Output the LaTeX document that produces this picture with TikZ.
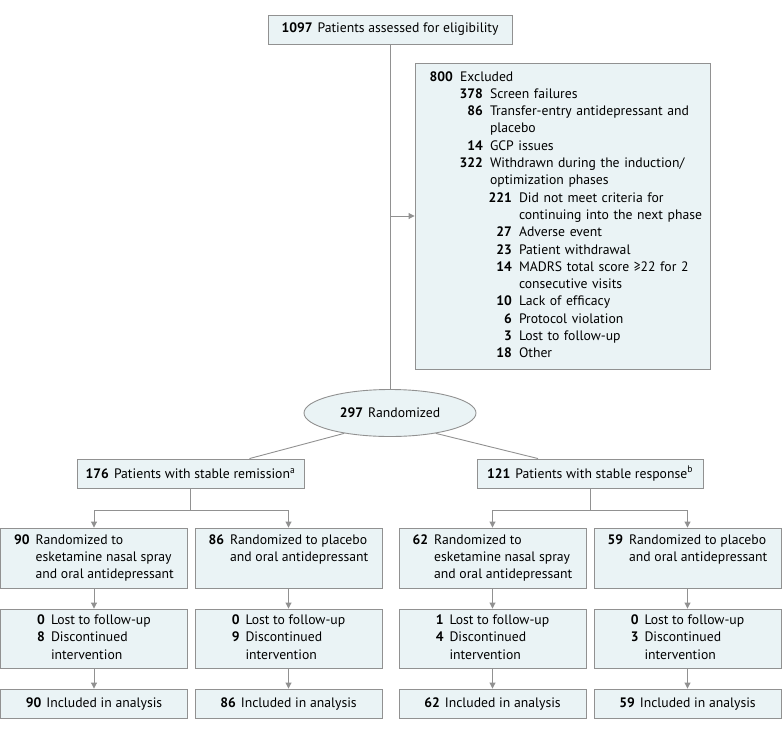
\documentclass[tikz,border=0pt]{standalone}
\usepackage{fontspec}
\setmainfont{PT Sans}
\usepackage{xcolor}
\usetikzlibrary{positioning,shapes.geometric,arrows.meta}
\definecolor{boxfill}{RGB}{234,243,245}
\definecolor{boxline}{RGB}{145,145,145}
\tikzset{
  every node/.style={font=\fontsize{13.7}{17.3}\selectfont}
}
\newcommand{\exitem}[3]{\makebox[#1pt][r]{\textbf{#2}}\hspace{7pt}#3}
\newcommand{\exmore}[2]{\hspace*{#1pt}#2}

\begin{document}
\begin{tikzpicture}[x=1pt,y=-1pt,
		box/.style = {rectangle, draw=boxline, fill=boxfill, line width=0.9pt, minimum width=#1, inner sep=0pt, align=center},
		box/.default = 187pt,
		line/.style = {draw=boxline, line width=0.9pt},
		arr/.style = {line, -{Triangle[length=6pt,width=6pt]}}]
	\useasboundingbox (0,0) rectangle (783,731);

	\node[box=244pt, minimum height=29pt] (top) at (390, 29.5) {\textbf{1097}\hspace{5pt}Patients assessed for eligibility};
	\node[box=295pt, minimum height=306pt, text width=295pt, align=left] (excl) at (562.5, 216) {%
		\begin{tabular}{@{}l@{}}
		\exitem{38}{800}{Excluded}\\
		\exitem{68}{378}{Screen failures}\\
		\exitem{68}{86}{Transfer-entry antidepressant and}\\
		\exmore{75}{placebo}\\
		\exitem{68}{14}{GCP issues}\\
		\exitem{68}{322}{Withdrawn during the induction/}\\
		\exmore{75}{optimization phases}\\
		\exitem{97}{221}{Did not meet criteria for}\\
		\exmore{104}{continuing into the next phase}\\
		\exitem{97}{27}{Adverse event}\\
		\exitem{97}{23}{Patient withdrawal}\\
		\exitem{97}{14}{MADRS total score ≥22 for 2}\\
		\exmore{104}{consecutive visits}\\
		\exitem{97}{10}{Lack of efficacy}\\
		\exitem{97}{6}{Protocol violation}\\
		\exitem{97}{3}{Lost to follow-up}\\
		\exitem{97}{18}{Other}
		\end{tabular}};
	\node[ellipse, draw=boxline, fill=boxfill, line width=0.9pt, minimum width=172pt, minimum height=47pt, inner sep=0pt] (rand) at (390, 413) {\textbf{297}\hspace{5pt}Randomized};
	\node[box=227pt, minimum height=29pt] (remis) at (190.5, 473.5) {\textbf{176}\hspace{5pt}Patients with stable remission\textsuperscript{a}};
	\node[box=226pt, minimum height=29pt] (resp) at (590, 473.5) {\textbf{121}\hspace{5pt}Patients with stable response\textsuperscript{b}};

	\node[box, minimum height=60pt] (a1) at (94, 558) {\begin{tabular}{@{}r@{\hspace{6pt}}l@{}}\textbf{90}&Randomized to\\&esketamine nasal spray\\&and oral antidepressant\end{tabular}};
	\node[box, minimum height=60pt] (b1) at (288.5, 558) {\begin{tabular}{@{}r@{\hspace{6pt}}l@{}}\textbf{86}&Randomized to placebo\\&and oral antidepressant\\&\end{tabular}};
	\node[box, minimum height=60pt] (c1) at (492.5, 558) {\begin{tabular}{@{}r@{\hspace{6pt}}l@{}}\textbf{62}&Randomized to\\&esketamine nasal spray\\&and oral antidepressant\end{tabular}};
	\node[box, minimum height=60pt] (d1) at (687.5, 558) {\begin{tabular}{@{}r@{\hspace{6pt}}l@{}}\textbf{59}&Randomized to placebo\\&and oral antidepressant\\&\end{tabular}};

	\node[box, minimum height=59pt] (a2) at (94, 638.5) {\begin{tabular}{@{}r@{\hspace{6pt}}l@{}}\textbf{0}&Lost to follow-up\\\textbf{8}&Discontinued\\&intervention\end{tabular}};
	\node[box, minimum height=59pt] (b2) at (288.5, 638.5) {\begin{tabular}{@{}r@{\hspace{6pt}}l@{}}\textbf{0}&Lost to follow-up\\\textbf{9}&Discontinued\\&intervention\end{tabular}};
	\node[box, minimum height=59pt] (c2) at (492.5, 638.5) {\begin{tabular}{@{}r@{\hspace{6pt}}l@{}}\textbf{1}&Lost to follow-up\\\textbf{4}&Discontinued\\&intervention\end{tabular}};
	\node[box, minimum height=59pt] (d2) at (687.5, 638.5) {\begin{tabular}{@{}r@{\hspace{6pt}}l@{}}\textbf{0}&Lost to follow-up\\\textbf{3}&Discontinued\\&intervention\end{tabular}};

	\node[box, minimum height=29pt] (a3) at (94, 703.5) {\textbf{90}\hspace{5pt}Included in analysis};
	\node[box, minimum height=29pt] (b3) at (288.5, 703.5) {\textbf{86}\hspace{5pt}Included in analysis};
	\node[box, minimum height=29pt] (c3) at (492.5, 703.5) {\textbf{62}\hspace{5pt}Included in analysis};
	\node[box, minimum height=29pt] (d3) at (687.5, 703.5) {\textbf{59}\hspace{5pt}Included in analysis};

	\draw[line] (top) -- (rand);
	\draw[arr] (top.south |- excl.west) -- (excl.west);
	\draw[line] (rand.204) -- ([xshift=59pt]remis.north);
	\draw[line] (rand.336) -- ([xshift=-52pt]resp.north);

	\draw[arr] (remis.south) -- ++(0,21.5) -| (a1.north);
	\draw[arr] (remis.south) -- ++(0,21.5) -| (b1.north);
	\draw[arr] (resp.south) -- ++(0,21.5) -| (c1.north);
	\draw[arr] (resp.south) -- ++(0,21.5) -| (d1.north);

	\foreach \c in {a,b,c,d} {
		\draw[arr] (\c1) -- (\c2);
		\draw[arr] (\c2) -- (\c3);
	}
\end{tikzpicture}
\end{document}
